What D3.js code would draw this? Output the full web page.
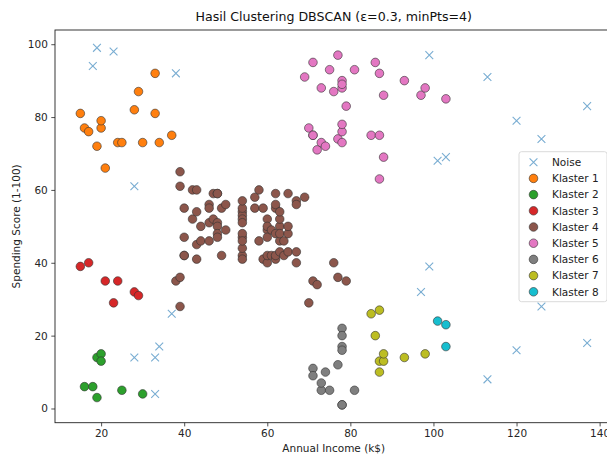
<!DOCTYPE html>
<html>
<head>
<meta charset="utf-8">
<script src="https://cdn.jsdelivr.net/npm/d3@7"></script>
<style>
  html, body { margin: 0; padding: 0; background: #fff; }
  svg { display: block; font-family: "DejaVu Sans", sans-serif; }
</style>
</head>
<body>
<svg id="chart" width="607" height="457"></svg>
<script>
// ---- Data (Annual Income k$, Spending Score) ----
const noise = [[18,94],[19,99],[23,98],[38,92],[28,61],[28,14],[33,4],[33,14],[34,17],[37,26],
  [99,97],[113,91],[120,79],[126,74],[137,83],[101,68],[103,69],[97,32],[99,39],[113,8],[120,16],[126,28],[137,18]];
const klaster1 = [[15,81],[16,77],[17,76],[19,72],[20,77],[20,79],[21,66],[24,73],[25,73],[28,82],
  [29,87],[30,73],[33,92],[33,81],[34,73],[37,75]];
const klaster2 = [[16,6],[18,6],[19,3],[19,14],[20,15],[20,13],[25,5],[30,4]];
const klaster3 = [[15,39],[17,40],[21,35],[24,35],[23,29],[28,32],[29,31]];
const klaster4 = [[39,61],[39,65],[38,35],[39,36],[39,28],[40,55],[40,47],[40,42],[40,42],[42,52],
  [42,60],[43,54],[43,60],[43,45],[43,41],[44,50],[44,46],[46,51],[46,46],[46,56],[46,55],[47,52],
  [47,59],[48,51],[48,59],[48,50],[48,48],[48,59],[48,47],[49,55],[49,42],[50,49],[50,56],
  [54,47],[54,54],[54,53],[54,48],[54,52],[54,42],[54,51],[54,55],[54,41],[54,44],[54,57],[54,46],
  [57,58],[57,55],[58,60],[58,46],[59,55],[59,41],[60,49],[60,40],[60,42],[60,52],[60,47],[60,50],
  [61,42],[61,49],[62,41],[62,48],[62,59],[62,55],[62,56],[62,42],[63,50],[63,46],[63,43],[63,48],
  [63,52],[63,54],[64,42],[64,46],[65,48],[65,50],[65,43],[65,59],[67,43],[67,57],[67,56],[67,40],
  [69,58],[70,29],[71,35],[72,34],[76,40],[77,36],[79,35]];
const klaster5 = [[69,91],[70,77],[71,95],[71,75],[71,75],[72,71],[73,88],[73,73],[74,72],[75,93],
  [76,87],[77,97],[77,74],[78,90],[78,88],[78,76],[78,89],[78,78],[78,73],[79,83],[81,93],[85,75],
  [86,95],[87,63],[87,75],[87,92],[88,86],[88,69],[93,90],[97,86],[98,88],[103,85]];
const klaster6 = [[71,11],[71,9],[73,5],[73,7],[74,10],[75,5],[77,12],[78,22],[78,17],[78,20],
  [78,16],[78,1],[78,1],[81,5]];
const klaster7 = [[85,26],[86,20],[87,27],[87,13],[87,10],[88,13],[88,15],[93,14],[98,15]];
const klaster8 = [[101,24],[103,17],[103,23]];

const seriesNames = ["Noise","Klaster 1","Klaster 2","Klaster 3","Klaster 4","Klaster 5","Klaster 6","Klaster 7","Klaster 8"];
const seriesData = [noise, klaster1, klaster2, klaster3, klaster4, klaster5, klaster6, klaster7, klaster8];
const seriesColors = ["#1f77b4","#ff7f0e","#2ca02c","#d62728","#8c564b","#e377c2","#7f7f7f","#bcbd22","#17becf"];
const xTicks = [20,40,60,80,100,120,140];
const yTicks = [0,20,40,60,80,100];
const titleText = "Hasil Clustering DBSCAN (ε=0.3, minPts=4)";
const xLabel = "Annual Income (k$)";
const yLabel = "Spending Score (1-100)";

(function () {
// ---- Layout ----
const svg = d3.select("#chart");
const pL = 55, pR = 612.5, pT = 30, pB = 422.7;
const x = d3.scaleLinear().domain([8.9, 143.1]).range([pL, pR]);
const y = d3.scaleLinear().domain([-3.9, 103.9]).range([pB, pT]);

svg.append("defs").append("clipPath").attr("id","clip")
  .append("rect").attr("x",pL).attr("y",pT).attr("width",pR-pL).attr("height",pB-pT);

// axes
const xAxis = d3.axisBottom(x).tickValues(xTicks).tickSize(3.7).tickPadding(3.5).tickFormat(d3.format("d"));
const yAxis = d3.axisLeft(y).tickValues(yTicks).tickSize(3.7).tickPadding(3.5).tickFormat(d3.format("d"));

const gx = svg.append("g").attr("transform",`translate(0,${pB})`).call(xAxis);
const gy = svg.append("g").attr("transform",`translate(${pL},0)`).call(yAxis);
[gx, gy].forEach(g => {
  g.select(".domain").remove();
  g.selectAll(".tick line").attr("stroke","#222").attr("stroke-width",0.8);
  g.selectAll(".tick text").attr("fill","#262626").style("font-size","10.5px").style("font-family","DejaVu Sans");
});

// frame
svg.append("rect").attr("x",pL).attr("y",pT).attr("width",pR-pL).attr("height",pB-pT)
  .attr("fill","none").attr("stroke","#222").attr("stroke-width",0.9);

// points
const plot = svg.append("g").attr("clip-path","url(#clip)");
const r = 4.3, xs = 3.9;
seriesData.forEach((data, i) => {
  const g = plot.append("g");
  if (i === 0) {
    g.selectAll("path").data(data).join("path")
      .attr("d", d => `M${x(d[0])-xs},${y(d[1])-xs}L${x(d[0])+xs},${y(d[1])+xs}M${x(d[0])-xs},${y(d[1])+xs}L${x(d[0])+xs},${y(d[1])-xs}`)
      .attr("stroke", seriesColors[i]).attr("stroke-opacity",0.6).attr("stroke-width",1.1).attr("fill","none");
  } else {
    g.selectAll("circle").data(data).join("circle")
      .attr("cx", d => x(d[0])).attr("cy", d => y(d[1])).attr("r", r)
      .attr("fill", seriesColors[i]).attr("stroke","#333").attr("stroke-width",0.6);
  }
});

// title and labels
svg.append("text").attr("x",(pL+pR)/2).attr("y",21).attr("text-anchor","middle")
  .style("font-size","12.6px").attr("fill","#111").text(titleText);
svg.append("text").attr("x",(pL+pR)/2).attr("y",452).attr("text-anchor","middle")
  .style("font-size","10.5px").attr("fill","#222").text(xLabel);
svg.append("text").attr("transform",`translate(20,${(pT+pB)/2}) rotate(-90)`).attr("text-anchor","middle")
  .style("font-size","10.5px").attr("fill","#222").text(yLabel);

// legend
const lx = 519, ly = 151.7, lw = 88, lh = 150, rowH = 16.2;
const lg = svg.append("g");
lg.append("rect").attr("x",lx).attr("y",ly).attr("width",lw).attr("height",lh).attr("rx",2.5)
  .attr("fill","#fff").attr("fill-opacity",0.85).attr("stroke","#d0d0d0").attr("stroke-width",0.8);
seriesNames.forEach((name, i) => {
  const cy = ly + 10.5 + i*rowH;
  const mx = lx + 14.5;
  if (i === 0) {
    lg.append("path").attr("d",`M${mx-xs},${cy-xs}L${mx+xs},${cy+xs}M${mx-xs},${cy+xs}L${mx+xs},${cy-xs}`)
      .attr("stroke",seriesColors[0]).attr("stroke-opacity",0.6).attr("stroke-width",1.1);
  } else {
    lg.append("circle").attr("cx",mx).attr("cy",cy).attr("r",r).attr("fill",seriesColors[i])
      .attr("stroke","#333").attr("stroke-width",0.6);
  }
  lg.append("text").attr("x",lx+33).attr("y",cy).attr("dy","0.36em")
    .style("font-size","10.5px").attr("fill","#222").text(name);
});
})();
</script>
</body>
</html>
